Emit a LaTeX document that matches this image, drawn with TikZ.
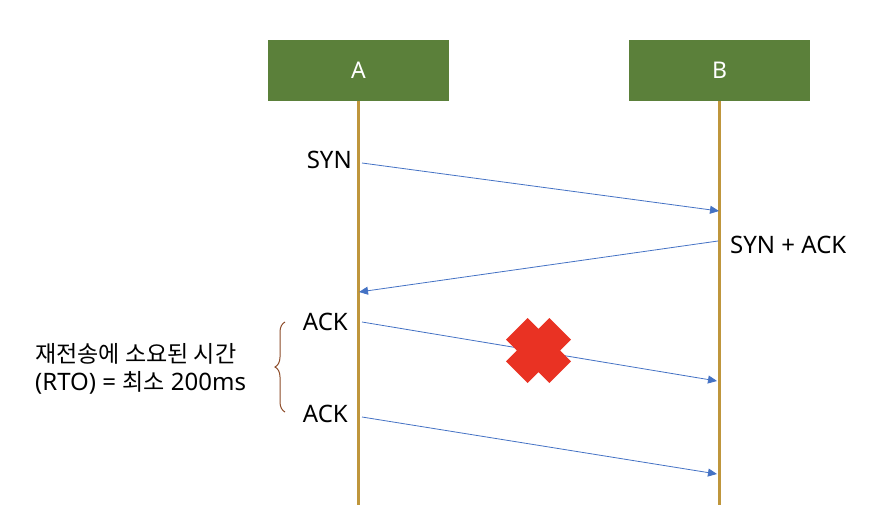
\documentclass[tikz,border=0pt]{standalone}
\usepackage{fontspec}
\setmainfont{Noto Sans}
\newfontfamily\krfont[Scale=0.96]{Noto Sans CJK KR}
\usetikzlibrary{decorations.pathreplacing,arrows.meta}
\definecolor{hostgreen}{RGB}{91,128,58}
\definecolor{lifegold}{RGB}{191,150,60}
\definecolor{msgblue}{RGB}{68,114,196}
\definecolor{lossred}{RGB}{233,50,35}
\definecolor{bracebrown}{RGB}{140,75,40}

\begin{document}
\begin{tikzpicture}[x=1pt,y=-1pt,
    host/.style={fill=hostgreen,text=white,minimum width=181pt,minimum height=61pt,
      font=\fontsize{23}{27}\selectfont},
    lifeline/.style={draw=lifegold,line width=3pt},
    msg/.style={color=msgblue,line width=0.8pt,-{Triangle[length=9pt,width=8pt]}},
    lbl/.style={font=\fontsize{24}{29}\selectfont,inner sep=0pt}]
  \useasboundingbox (0,0) rectangle (872,524);

  % hosts and lifelines
  \node[host] (A) at (358.5,70.5) {A};
  \node[host] (B) at (719.5,70.5) {B};
  \coordinate (Aend) at (358.5,505);
  \coordinate (Bend) at (719.5,505);
  \draw[lifeline] (A.south) -- (Aend);
  \draw[lifeline] (B.south) -- (Bend);

  % message labels
  \node[lbl,anchor=east] (syn) at (352,160) {SYN};
  \node[lbl,anchor=west] (synack) at (730,245) {SYN + ACK};
  \node[lbl,anchor=east] (ack1) at (348,322) {ACK};
  \node[lbl,anchor=east] (ack2) at (348,414) {ACK};

  % message end points
  \coordinate (m1s) at (362,163);
  \coordinate (m1e) at (719,211);
  \coordinate (m2s) at (718,241);
  \coordinate (m2e) at (359,292);
  \coordinate (m3s) at (362,322);
  \coordinate (m3e) at (717,381);
  \coordinate (m4s) at (362,417);
  \coordinate (m4e) at (717,474);

  \draw[msg] (m1s) -- (m1e);
  \draw[msg] (m2s) -- (m2e);
  \draw[msg] (m3s) -- (m3e);
  \draw[msg] (m4s) -- (m4e);

  % lost segment
  \fill[lossred,shift={(538.5,350.5)}]
    (-32.5,-10.8) -- (-10.8,-32.5) -- (0,-21.7) -- (10.8,-32.5) -- (32.5,-10.8)
    -- (21.7,0) -- (32.5,10.8) -- (10.8,32.5) -- (0,21.7) -- (-10.8,32.5)
    -- (-32.5,10.8) -- (-21.7,0) -- cycle;

  % retransmission time
  \coordinate (btop) at (285,322);
  \coordinate (bbot) at (285,412);
  \draw[bracebrown,line width=1pt,decorate,decoration={brace,amplitude=10pt}]
    (bbot) -- (btop);
  \node[lbl,anchor=west,align=left,font=\fontsize{24}{28}\selectfont] (rto) at (35,369)
    {{\krfont 재전송에 소요된 시간}\\(RTO) = {\krfont 최소} 200ms};
\end{tikzpicture}
\end{document}
